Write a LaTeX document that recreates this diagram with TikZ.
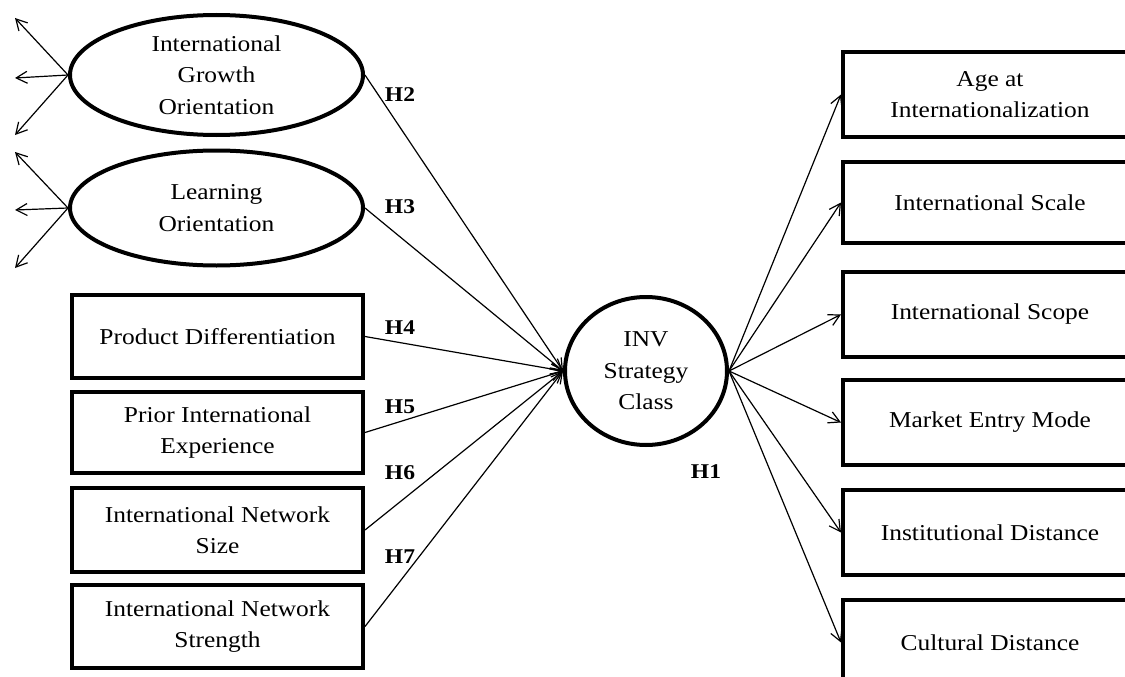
\documentclass[tikz,border=0pt]{standalone}
\usepackage{fontspec}
\setmainfont{Liberation Serif}[FakeStretch=1.12]
\usetikzlibrary{shapes.geometric,arrows.meta}
\tikzset{
  txt/.style={font=\fontsize{22.7}{31.5}\selectfont, align=center, inner sep=0pt},
  latent/.style={txt, ellipse, draw, line width=4pt},
  obsbox/.style={txt, rectangle, draw, line width=4pt},
  conn/.style={line width=1.2pt, -{Straight Barb[length=11pt,width=12pt,line width=1.2pt]}},
  hlab/.style={font=\fontsize{21}{24}\selectfont\bfseries, inner sep=0pt}
}
\begin{document}
\begin{tikzpicture}[x=1pt,y=-1pt]
\useasboundingbox (0,0) rectangle (1125,677);
\clip (0,0) rectangle (1125,677);

% latent constructs
\node[latent, minimum width=293pt, minimum height=120pt] (igo) at (216.5,75) {International\\Growth\\Orientation};
\node[latent, minimum width=293pt, minimum height=115pt] (lo) at (216.5,208) {Learning\\Orientation};

% observed predictors
\node[obsbox, minimum width=291pt, minimum height=83pt] (pd) at (217.5,336.5) {Product Differentiation};
\node[obsbox, minimum width=291pt, minimum height=81pt] (pie) at (217.5,432.5) {Prior International\\Experience};
\node[obsbox, minimum width=291pt, minimum height=84pt] (ns) at (217.5,530) {International Network\\Size};
\node[obsbox, minimum width=291pt, minimum height=83pt] (nst) at (217.5,626.5) {International Network\\Strength};

% central construct
\node[latent, minimum width=162pt, minimum height=148pt] (inv) at (646,371) {INV\\Strategy\\Class};

% outcome boxes
\node[obsbox, minimum width=294pt, minimum height=85pt] (age) at (990,94.5) {Age at\\Internationalization};
\node[obsbox, minimum width=294pt, minimum height=81pt] (scale) at (990,202.5) {International Scale};
\node[obsbox, minimum width=294pt, minimum height=85pt] (scope) at (990,314.5) {International Scope};
\node[obsbox, minimum width=294pt, minimum height=85pt] (mem) at (990,422.5) {Market Entry Mode};
\node[obsbox, minimum width=294pt, minimum height=85pt] (inst) at (990,532.5) {Institutional Distance};
\node[obsbox, minimum width=294pt, minimum height=85pt] (cult) at (990,642.5) {Cultural Distance};

% indicator arrow ends
\coordinate (a1) at (15,18);
\coordinate (a2) at (15,78);
\coordinate (a3) at (15,135);
\coordinate (b1) at (15,152);
\coordinate (b2) at (15,210);
\coordinate (b3) at (15,268);

\draw[conn] (igo.west) -- (a1);
\draw[conn] (igo.west) -- (a2);
\draw[conn] (igo.west) -- (a3);
\draw[conn] (lo.west) -- (b1);
\draw[conn] (lo.west) -- (b2);
\draw[conn] (lo.west) -- (b3);

% hypotheses
\draw[conn] (igo.east) -- (inv.west);
\draw[conn] (lo.east) -- (inv.west);
\draw[conn] (pd.east) -- (inv.west);
\draw[conn] (pie.east) -- (inv.west);
\draw[conn] (ns.east) -- (inv.west);
\draw[conn] (nst.east) -- (inv.west);

\draw[conn] (inv.east) -- (age.west);
\draw[conn] (inv.east) -- (scale.west);
\draw[conn] (inv.east) -- (scope.west);
\draw[conn] (inv.east) -- (mem.west);
\draw[conn] (inv.east) -- (inst.west);
\draw[conn] (inv.east) -- (cult.west);

% labels
\node[hlab] (h2) at (400,95) {H2};
\node[hlab] (h3) at (400,207) {H3};
\node[hlab] (h4) at (400,328) {H4};
\node[hlab] (h5) at (400,407) {H5};
\node[hlab] (h6) at (400,473) {H6};
\node[hlab] (h7) at (400,557) {H7};
\node[hlab] (h1) at (706,472) {H1};
\end{tikzpicture}
\end{document}
